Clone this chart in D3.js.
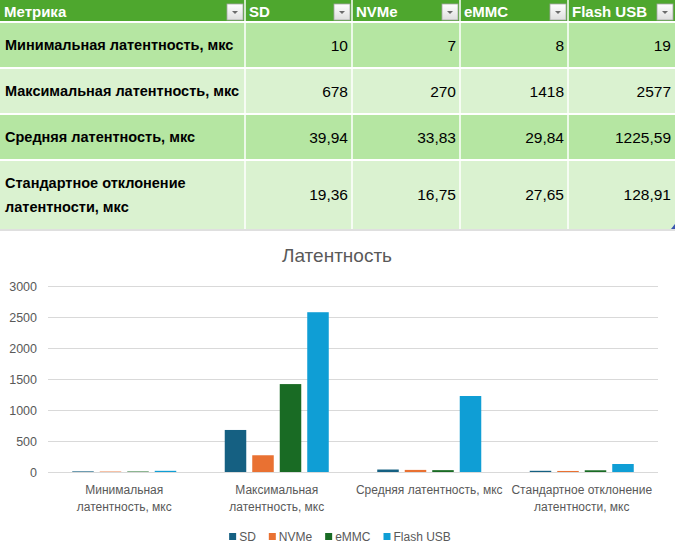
<!DOCTYPE html>
<html><head><meta charset="utf-8">
<script src="https://cdn.jsdelivr.net/npm/d3@7"></script>
<style>html,body{margin:0;padding:0;background:#fff;} svg{display:block;}</style>
</head><body>
<script>
// ---- data ----
const headers = ["Метрика", "SD", "NVMe", "eMMC", "Flash USB"];
const metricLines = [["Минимальная латентность, мкс"], ["Максимальная латентность, мкс"], ["Средняя латентность, мкс"], ["Стандартное отклонение", "латентности, мкс"]];
const axisLines = [["Минимальная", "латентность, мкс"], ["Максимальная", "латентность, мкс"], ["Средняя латентность, мкс"], ["Стандартное отклонение", "латентности, мкс"]];
const series = ["SD", "NVMe", "eMMC", "Flash USB"];
const sdValues = [10, 678, 39.94, 19.36];
const nvmeValues = [7, 270, 33.83, 16.75];
const emmcValues = [8, 1418, 29.84, 27.65];
const flashValues = [19, 2577, 1225.59, 128.91];
const yTicks = [0, 500, 1000, 1500, 2000, 2500, 3000];
const chartTitle = "Латентность";
const colors = ["#156082", "#E97132", "#196B24", "#0F9ED5"];

const valuesBySeries = [sdValues, nvmeValues, emmcValues, flashValues];
const fmt = v => Number.isInteger(v) ? String(v) : v.toFixed(2).replace(".", ",");

const W = 675, H = 559;
const svg = d3.select("body").append("svg").attr("width", W).attr("height", H);
const FONT = "'Liberation Sans', Arial, sans-serif";

// ---- table ----
const colEdges = [0, 245, 352, 460, 568, 675];
const rowEdges = [0, 22, 68, 114, 160, 229];
const rowFills = ["#B5E6A2", "#DAF2D0", "#B5E6A2", "#DAF2D0"];
const tbl = svg.append("g");
tbl.append("rect").attr("x", 0).attr("y", 0).attr("width", W).attr("height", rowEdges[1]).attr("fill", "#4EA72E");
rowFills.forEach((f, i) => tbl.append("rect").attr("x", 0).attr("y", rowEdges[i + 1]).attr("width", W)
  .attr("height", rowEdges[i + 2] - rowEdges[i + 1]).attr("fill", f));
rowEdges.slice(1, 5).forEach(y => tbl.append("line").attr("x1", 0).attr("x2", W).attr("y1", y).attr("y2", y)
  .attr("stroke", "#fff").attr("stroke-width", 2));
colEdges.slice(1, 5).forEach(x => tbl.append("line").attr("x1", x).attr("x2", x).attr("y1", 0).attr("y2", rowEdges[5])
  .attr("stroke", "#fff").attr("stroke-width", 1.5));
tbl.append("line").attr("x1", 0).attr("x2", W).attr("y1", 230).attr("y2", 230).attr("stroke", "#d4d4d4").attr("stroke-width", 1.5);

const defs = svg.append("defs");
const grad = defs.append("linearGradient").attr("id", "btn").attr("x1", 0).attr("y1", 0).attr("x2", 0).attr("y2", 1);
grad.append("stop").attr("offset", "0%").attr("stop-color", "#ffffff");
grad.append("stop").attr("offset", "100%").attr("stop-color", "#dedede");
headers.forEach((h, i) => {
  tbl.append("text").attr("x", colEdges[i] + 4).attr("y", 17).text(h)
    .attr("font-family", FONT).attr("font-weight", "bold").attr("font-size", 15).attr("fill", "#fff");
  const bx = colEdges[i + 1] - 18;
  tbl.append("rect").attr("x", bx).attr("y", 4).attr("width", 16).attr("height", 16)
    .attr("fill", "url(#btn)").attr("stroke", "#a6a6a6").attr("stroke-width", 0.8);
  tbl.append("path").attr("d", `M${bx + 5},${11} L${bx + 11},${11} L${bx + 8},${14} Z`).attr("fill", "#6b6b6b");
});

metricLines.forEach((lines, r) => {
  const y0 = rowEdges[r + 1], y1 = rowEdges[r + 2], cy = (y0 + y1) / 2;
  const lh = 24;
  lines.forEach((ln, k) => {
    tbl.append("text").attr("x", 5).attr("y", cy + (k - (lines.length - 1) / 2) * lh + 5)
      .text(ln).attr("font-family", FONT).attr("font-weight", "bold").attr("font-size", 14.5).attr("fill", "#000");
  });
  valuesBySeries.forEach((vals, s) => {
    tbl.append("text").attr("x", colEdges[s + 2] - 4).attr("y", cy + 5.5).attr("text-anchor", "end")
      .text(fmt(vals[r])).attr("font-family", FONT).attr("font-size", 15.5).attr("fill", "#000");
  });
});
tbl.append("path").attr("d", "M671,229 L675,229 L675,224 Z").attr("fill", "#3a56b0");

// ---- chart ----
const x0 = d3.scaleBand().domain(d3.range(axisLines.length)).range([48, 658]).padding(0);
const bw = x0.bandwidth();
const groupW = bw * 0.682;
const x1 = d3.scaleBand().domain(series).range([(bw - groupW) / 2, (bw + groupW) / 2]).paddingInner(0.218).paddingOuter(0);
const y = d3.scaleLinear().domain([0, 3000]).range([472, 286]);

const ch = svg.append("g");
ch.append("text").attr("x", 337).attr("y", 262).attr("text-anchor", "middle").text(chartTitle)
  .attr("font-family", FONT).attr("font-size", 19).attr("fill", "#595959");

ch.selectAll(".grid").data(yTicks).join("line")
  .attr("x1", 48).attr("x2", 658).attr("y1", d => Math.round(y(d)) + 0.5).attr("y2", d => Math.round(y(d)) + 0.5)
  .attr("stroke", "#d9d9d9").attr("stroke-width", 1);
const yAxis = d3.axisLeft(y).tickValues(yTicks).tickFormat(d3.format("d")).tickSize(0).tickPadding(0);
const yg = ch.append("g").attr("transform", "translate(37,0)").call(yAxis);
yg.select(".domain").remove();
yg.selectAll("text").attr("font-family", FONT).attr("font-size", 12.5).attr("fill", "#595959");

const groups = ch.selectAll(".cat").data(d3.range(axisLines.length)).join("g")
  .attr("transform", c => `translate(${x0(c)},0)`);
groups.selectAll("rect").data(c => series.map((s, i) => ({ s, i, v: valuesBySeries[i][c] }))).join("rect")
  .attr("x", d => x1(d.s)).attr("width", x1.bandwidth())
  .attr("y", d => y(d.v)).attr("height", d => y(0) - y(d.v))
  .attr("fill", d => colors[d.i]);

axisLines.forEach((lines, c) => {
  lines.forEach((ln, k) => {
    ch.append("text").attr("x", x0(c) + bw / 2).attr("y", 494 + k * 17).attr("text-anchor", "middle")
      .text(ln).attr("font-family", FONT).attr("font-size", 12).attr("fill", "#595959");
  });
});

const lg = ch.append("g");
let lx = 0;
series.forEach((s, i) => {
  const g = lg.append("g").attr("transform", `translate(${lx},0)`);
  g.append("rect").attr("x", 0).attr("y", -8).attr("width", 7).attr("height", 7).attr("fill", colors[i]);
  const t = g.append("text").attr("x", 10).attr("y", 0).text(s)
    .attr("font-family", FONT).attr("font-size", 12).attr("fill", "#595959");
  lx += 10 + t.node().getComputedTextLength() + 13;
});
const totalW = lx - 13;
lg.attr("transform", `translate(${340 - totalW / 2},541)`);
</script>
</body></html>
